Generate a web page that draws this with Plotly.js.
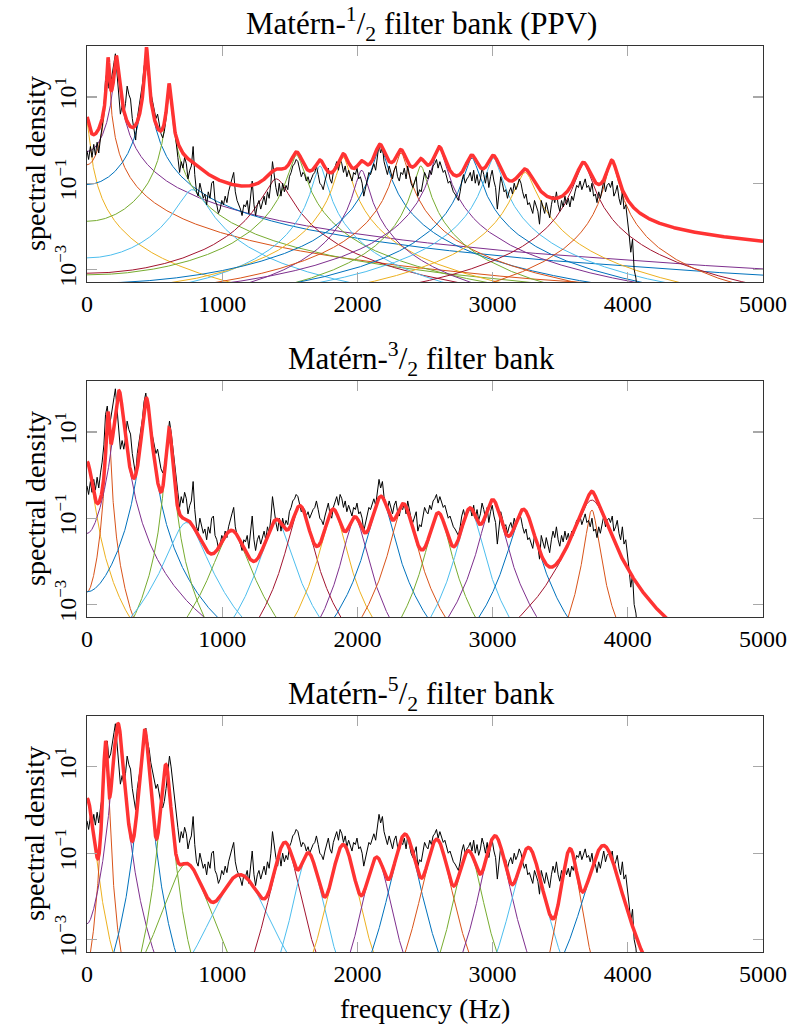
<!DOCTYPE html>
<html><head><meta charset="utf-8">
<script src="https://cdn.plot.ly/plotly-3.0.1.min.js"></script>
<style>body{margin:0;background:#fff}</style>
</head><body><div id="chart" style="width:792px;height:1025px"></div>
<script>
// ---------- DATA ----------
// measured periodogram (same in all three panels), frequency in Hz, value as log10(spectral density)
const freqHz = [0,12,25,37,50,62,75,87,100,112,125,137,150,162,175,187,200,210,222,235,247,260,272,285,297,310,322,335,347,360,372,385,397,410,422,435,447,460,472,485,497,510,522,535,547,560,572,585,597,610,622,635,647,660,672,685,697,710,722,735,747,760,772,785,797,810,822,835,847,860,872,885,897,910,922,935,947,960,972,985,997,1010,1022,1035,1047,1060,1072,1085,1097,1110,1122,1135,1147,1160,1172,1185,1197,1210,1222,1235,1247,1260,1272,1285,1297,1310,1322,1335,1347,1360,1372,1385,1397,1410,1422,
1435,1447,1460,1472,1485,1497,1510,1522,1535,1547,1560,1572,1585,1597,1610,1622,1635,1647,1660,1672,1685,1697,1710,1722,1735,1747,1760,1772,1785,1797,1810,1822,1835,1847,1860,1872,1885,1897,1910,1922,1935,1947,1960,1972,1985,1997,2010,2022,2035,2047,2060,2072,2085,2097,2110,2122,2135,2147,2160,2172,2185,2197,2210,2222,2235,2247,2260,2272,2285,2297,2310,2322,2335,2347,2360,2372,2385,2397,2410,2422,2435,2447,2460,2472,2485,2497,2510,2522,2535,2547,2560,2572,2585,2597,2610,2622,2635,2647,2660,2672,2685,2697,2710,2722,2735,2747,2760,2772,2785,2797,2810,2822,2835,
2847,2860,2872,2885,2897,2910,2922,2935,2947,2960,2972,2985,2997,3010,3022,3035,3047,3060,3072,3085,3097,3110,3122,3135,3147,3160,3172,3185,3197,3210,3222,3235,3247,3260,3272,3285,3297,3310,3322,3335,3347,3360,3372,3385,3397,3410,3422,3435,3447,3460,3472,3485,3497,3510,3522,3535,3547,3560,3572,3585,3597,3610,3622,3635,3647,3660,3672,3685,3697,3710,3722,3735,3747,3760,3772,3785,3797,3810,3822,3835,3847,3860,3872,3885,3897,3910,3922,3935,3947,3960,3972,3985,3997,4010,4022,4035,4047,4060,4072,4085];
const spectrumLog10 = [-0.25,-0.45,-0.15,-0.4,-0.1,-0.35,-0.05,-0.3,0.05,0.3,0.7,1.4,1.6,1.2,1.3,1.5,1.8,2.0,1.5,0.9,0.6,0.8,0.6,0.85,1.25,1.05,0.95,0.5,0.3,0.0,0.5,0.8,0.95,1.3,1.7,1.9,1.6,1.4,1.1,0.9,0.65,0.5,0.6,0.3,0.15,0.05,0.2,0.5,0.9,1.25,1.0,0.6,0.3,0.0,-0.4,-0.75,-0.5,-0.65,-0.4,-0.55,-0.9,-0.7,-0.6,-0.15,-0.8,-1.2,-1.3,-1.0,-1.15,-1.35,-1.25,-1.5,-1.2,-1.35,-1.0,-0.95,-1.4,-1.5,-1.7,-1.6,-1.4,-1.5,-1.3,-1.45,-1.2,-1.0,-0.9,-0.75,-1.2,-1.4,-1.5,-1.6,-1.75,-1.5,-1.55,-1.4,-1.7,-1.3,-0.95,-1.5,-1.75,-1.5,-1.4,-1.6,-1.45,-1.3,-1.5,-1.2,-1.35,-1.0,-0.5,-0.9,-1.1,-1.3,-1.0,
-1.3,-1.0,-1.2,-1.05,-1.15,-0.85,-0.75,-0.6,-0.55,-0.45,-0.5,-0.7,-0.85,-0.75,-0.8,-0.95,-0.85,-1.0,-0.9,-0.8,-0.75,-0.6,-0.8,-1.0,-1.05,-1.15,-0.95,-0.8,-0.65,-0.9,-1.0,-0.75,-0.6,-0.5,-0.7,-0.45,-0.55,-0.75,-0.6,-0.85,-0.7,-0.8,-0.95,-0.75,-0.8,-0.65,-0.9,-0.85,-1.0,-1.3,-1.1,-0.9,-0.75,-0.8,-0.65,-0.55,-0.7,-0.4,-0.1,-0.3,-0.15,-0.5,-0.7,-0.8,-0.6,-0.75,-0.9,-0.7,-0.6,-0.85,-0.95,-0.75,-0.8,-0.65,-0.9,-0.6,-0.8,-1.0,-1.1,-0.95,-0.85,-1.3,-1.15,-1.2,-1.0,-0.75,-0.85,-0.9,-0.7,-0.8,-0.6,-0.55,-0.45,-0.65,-0.5,-0.6,-0.75,-0.7,-0.85,-1.0,-0.95,-1.1,-1.2,-1.25,-1.35,-1.4,-1.2,-0.95,-0.8,-1.0,-0.9,-0.85,-0.75,
-0.95,-0.7,-1.0,-0.8,-1.05,-0.9,-0.65,-0.8,-1.0,-0.75,-1.1,-0.85,-0.7,-0.95,-1.1,-1.6,-1.15,-0.85,-1.0,-1.2,-1.15,-1.35,-1.2,-1.1,-1.25,-1.0,-1.15,-1.05,-0.9,-1.0,-1.2,-1.35,-1.25,-1.5,-1.45,-1.6,-1.7,-1.4,-1.5,-1.65,-1.95,-1.4,-1.55,-1.7,-1.45,-1.6,-1.8,-1.5,-1.3,-1.45,-1.2,-1.5,-1.65,-1.4,-1.55,-1.3,-1.5,-1.35,-1.55,-1.3,-1.4,-1.2,-1.05,-1.1,-0.95,-1.15,-1.0,-0.9,-1.1,-1.05,-1.2,-1.0,-1.3,-1.25,-1.45,-1.2,-1.35,-1.1,-0.95,-1.2,-1.05,-1.0,-1.1,-0.95,-1.3,-1.2,-1.05,-1.35,-1.5,-1.2,-1.6,-1.5,-1.8,-2.2,-2.6,-2.3,-3.0,-3.2,-3.6,-3.9];

// filter banks: centre frequency (Hz), peak height log10, half-width (Hz)
const ppvCenters = [0,156,217,440,607,780,1400,1550,1723,1895,2031,2167,2322,2468,2606,2846,3006,3240,3672,3882];
const ppvPeakLog10 = [0.1,1.9,1.95,2.15,1.3,-1.15,-0.9,-0.35,-0.6,-0.4,-0.7,-0.15,-0.3,-0.6,-0.2,-0.42,-0.42,-0.75,-0.55,-0.5];
const ppvWidthHz = [15,6.4,12,8,11,90,80,45,40,40,40,40,40,40,40,45,45,60,50,35];

const m32Centers = [0,156,237,440,607,736,1069,1402,1575,1821,1982,2174,2340,2599,2833,3001,3228,3734,3734];
const m32PeakLog10 = [0.0,1.45,1.95,1.78,1.08,-1.1,-1.3,-1.05,-0.72,-0.8,-1.0,-0.5,-0.68,-0.88,-0.78,-0.58,-0.8,-0.58,-0.81];
const m32WidthHz = [40,12,30,28,21,120,110,90,70,70,70,70,70,70,70,70,80,115,43];

const m52Centers = [0,138,230,427,583,736,1131,1464,1636,1895,2142,2352,2587,2821,3018,3265,3573,3820];
const m52PeakLog10 = [-0.03,1.6,2.0,1.85,1.05,-1.25,-1.5,-0.75,-1.0,-0.8,-1.1,-0.56,-0.68,-0.95,-0.6,-0.87,-0.9,-0.82];
const m52WidthHz = [50,17,35,32,35,155,200,92,92,92,92,92,92,92,90,100,65,120];

const panelTitles = ['Matérn-<sup>1</sup>/<sub>2</sub> filter bank (PPV)','Matérn-<sup>3</sup>/<sub>2</sub> filter bank','Matérn-<sup>5</sup>/<sub>2</sub> filter bank'];
const xTickVals = [0,1000,2000,3000,4000,5000];
const yTickVals = [1e-3,1e-1,1e1];
const yTickText = ['10<sup>−3</sup>','10<sup>−1</sup>','10<sup>1</sup>'];

// ---------- STYLE ----------
const palette = ['#0072BD','#D95319','#EDB120','#7E2F8E','#77AC30','#4DBEEE','#A2142F'];
const ppvColorIdx = [2,1,3,0,4,5,6,4,5,2,3,0,1,4,3,0,5,2,6,1];
const m32ColorIdx = [2,1,3,0,4,5,4,5,6,2,3,0,1,4,5,3,0,6,1];
const m52ColorIdx = [2,1,3,0,4,4,5,6,5,2,3,0,1,4,3,5,1,0];
const FONT = '"Liberation Serif", "Times New Roman", serif';

// ---------- BUILD ----------
const grid = [];
for (let f = 0; f <= 5000; f += 1) grid.push(f);

function filterCurve(c, peakLog, w, order) {
  const A = Math.pow(10, peakLog);
  return grid.map(f => A * (Math.pow(1 + ((f - c) / w) ** 2, -order) + Math.pow(1 + ((f + c) / w) ** 2, -order)));
}

const spectrum = spectrumLog10.map(v => Math.pow(10, v));
const banks = [
  {c: ppvCenters, h: ppvPeakLog10, w: ppvWidthHz, col: ppvColorIdx, order: 1},
  {c: m32Centers, h: m32PeakLog10, w: m32WidthHz, col: m32ColorIdx, order: 2},
  {c: m52Centers, h: m52PeakLog10, w: m52WidthHz, col: m52ColorIdx, order: 3}
];

const traces = [];
banks.forEach((b, p) => {
  const xa = p === 0 ? 'x' : 'x' + (p + 1);
  const ya = p === 0 ? 'y' : 'y' + (p + 1);
  const total = grid.map(() => 0);
  b.c.forEach((c, i) => {
    const y = filterCurve(c, b.h[i], b.w[i], b.order);
    y.forEach((v, k) => total[k] += v);
    traces.push({x: grid, y: y, xaxis: xa, yaxis: ya, mode: 'lines', hoverinfo: 'skip',
      line: {color: palette[b.col[i]], width: 1}, showlegend: false});
  });
  traces.push({x: freqHz, y: spectrum, xaxis: xa, yaxis: ya, mode: 'lines', hoverinfo: 'skip',
    line: {color: '#000', width: 1}, showlegend: false});
  traces.push({x: grid, y: total, xaxis: xa, yaxis: ya, mode: 'lines', hoverinfo: 'skip',
    line: {color: '#ff3333', width: 3.5}, showlegend: false});
});

const domains = [[0.7395, 1], [0.3698, 0.6302], [0, 0.2605]];
const layout = {
  width: 792, height: 1025,
  margin: {l: 87, r: 29, t: 46, b: 73},
  paper_bgcolor: '#fff', plot_bgcolor: '#fff',
  font: {family: FONT, color: '#000', size: 24},
  showlegend: false,
  annotations: []
};
domains.forEach((d, p) => {
  const sfx = p === 0 ? '' : String(p + 1);
  layout['xaxis' + sfx] = {
    domain: [0, 1], anchor: 'y' + sfx, range: [0, 5000],
    tickvals: xTickVals, ticktext: xTickVals.map(String),
    ticks: 'inside', ticklen: 10, tickwidth: 1.2, tickcolor: '#a8a8a8',
    mirror: 'allticks', showline: true, linecolor: '#333', linewidth: 1.2,
    showgrid: false, zeroline: false, tickfont: {size: 24, family: FONT, color: '#000'}
  };
  layout['yaxis' + sfx] = {
    domain: d, anchor: 'x' + sfx, type: 'log', range: [-3.29, 2.18],
    tickvals: yTickVals, ticktext: yTickText, tickangle: -90,
    ticks: 'inside', ticklen: 10, tickwidth: 1.2, tickcolor: '#a8a8a8',
    mirror: 'allticks', showline: true, linecolor: '#333', linewidth: 1.2,
    showgrid: false, zeroline: false, tickfont: {size: 24, family: FONT, color: '#000'}
  };
  layout.annotations.push({
    text: panelTitles[p], xref: 'paper', yref: 'paper', x: 0.495, y: d[1] + 22 / 906,
    xanchor: 'center', yanchor: 'middle', showarrow: false, font: {size: 31, family: FONT, color: '#000'}
  });
  layout.annotations.push({
    text: 'spectral density', xref: 'paper', yref: 'paper', x: -52 / 676, y: (d[0] + d[1]) / 2,
    xanchor: 'center', yanchor: 'middle', textangle: -90, showarrow: false, font: {size: 28, family: FONT, color: '#000'}
  });
});
layout.annotations.push({
  text: 'frequency (Hz)', xref: 'paper', yref: 'paper', x: 0.5, y: -56 / 906,
  xanchor: 'center', yanchor: 'middle', showarrow: false, font: {size: 28, family: FONT, color: '#000'}
});

Plotly.newPlot('chart', traces, layout, {staticPlot: true, displayModeBar: false});
</script>
</body></html>
